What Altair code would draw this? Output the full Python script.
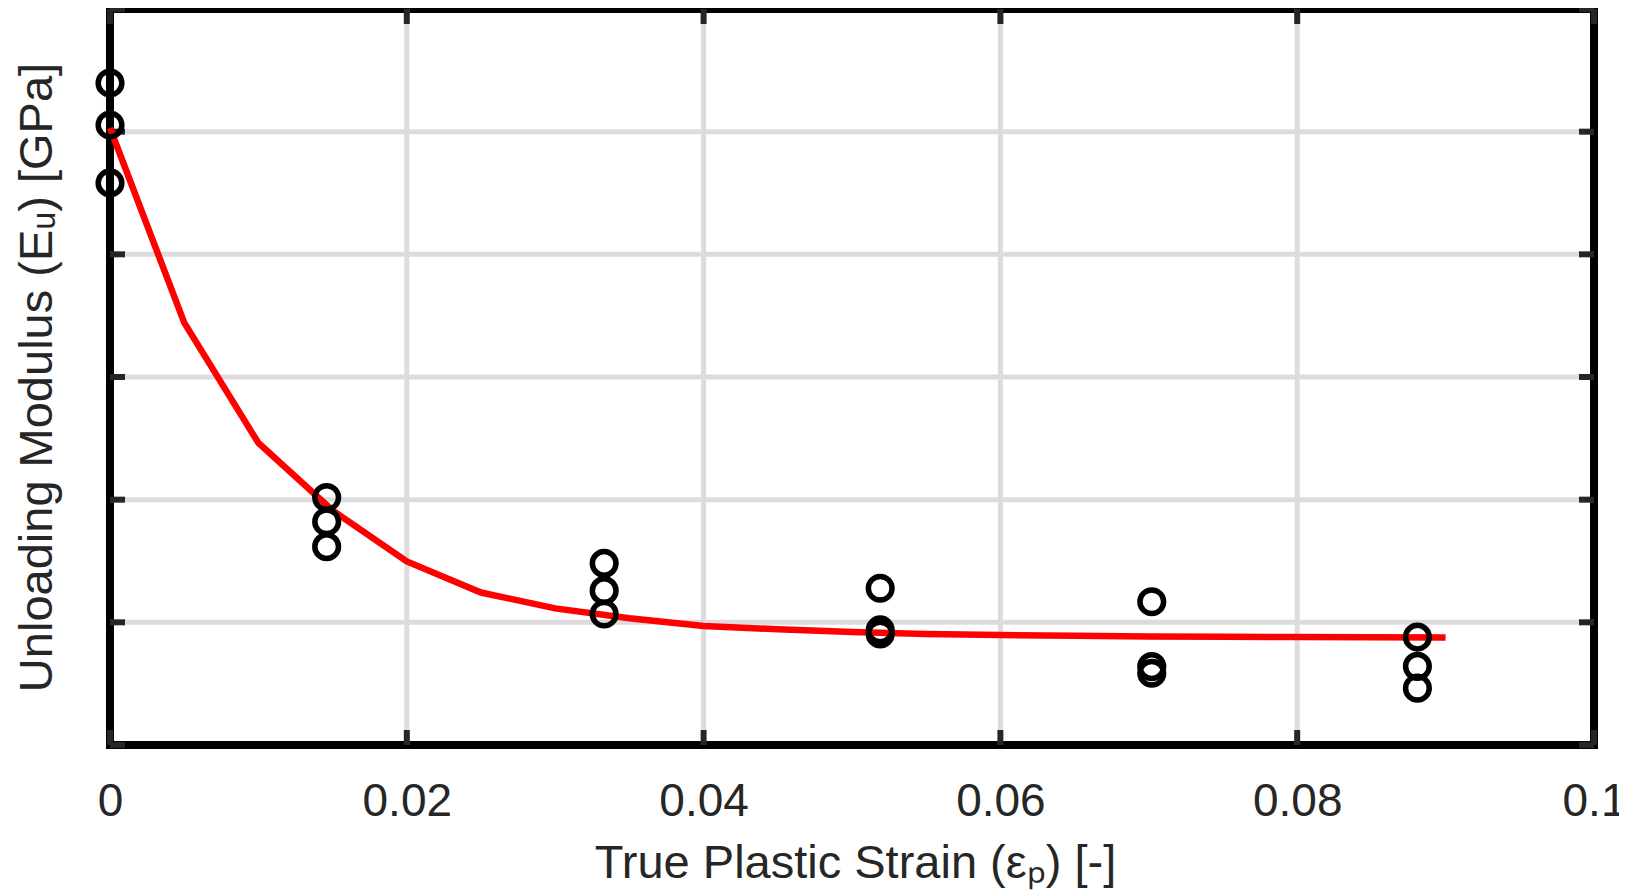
import altair as alt
import pandas as pd

# ---- data ----
x_ticks = [0, 0.02, 0.04, 0.06, 0.08, 0.1]
y_ticks = [140, 150, 160, 170, 180, 190, 200]
x_grid = [0.02, 0.04, 0.06, 0.08]
y_grid = [150, 160, 170, 180, 190]

strain_pts = [0, 0, 0,
              0.0146, 0.0146, 0.0146,
              0.0333, 0.0333, 0.0333,
              0.0519, 0.0519, 0.0519,
              0.0702, 0.0702, 0.0702,
              0.0881, 0.0881, 0.0881]
modulus_pts = [193.97, 190.54, 185.82,
               160.18, 158.20, 156.17,
               154.81, 152.58, 150.68,
               152.78, 149.38, 149.05,
               151.68, 146.39, 145.85,
               148.80, 146.41, 144.63]

fit_strain = [0, 0.005, 0.01, 0.015, 0.02, 0.025, 0.03, 0.035, 0.04, 0.045,
              0.05, 0.055, 0.06, 0.065, 0.07, 0.075, 0.08, 0.085, 0.09]
fit_modulus = [190.3, 174.43, 164.62, 159.12, 154.96, 152.43, 151.14, 150.33,
               149.70, 149.43, 149.21, 149.05, 148.97, 148.90, 148.85, 148.82,
               148.80, 148.78, 148.77]

W, H = 1484, 736
FONT = "Liberation Sans"
TXT = "#262626"
GRID = "#dcdcdc"

xs = alt.Scale(domain=[0, 0.1], nice=False, zero=False)
ys = alt.Scale(domain=[140, 200], nice=False, zero=False)

x_axis = alt.Axis(values=x_ticks, format=".2~f", grid=False, ticks=False, tickSize=0,
                  domain=False, labelFont=FONT, labelFontSize=46, labelColor=TXT,
                  labelPadding=56, labelBaseline="middle", labelFlush=False,
                  labelOverlap=False,
                  title="True Plastic Strain (εₚ) [-]", titleFont=FONT,
                  titleFontSize=47, titleFontWeight="normal", titleColor=TXT,
                  titleX=W / 2 + 3, titleY=118, titleBaseline="middle", titleAlign="center")
y_axis = alt.Axis(values=y_ticks, labels=False, ticks=False, tickSize=0, domain=False,
                  grid=False,
                  title="Unloading Modulus (Eᵤ) [GPa]", titleFont=FONT,
                  titleFontSize=47, titleFontWeight="normal", titleColor=TXT,
                  titleX=-73, titleY=H / 2, titleAngle=270, titleBaseline="middle",
                  titleAlign="center")

X = lambda: alt.X("strain:Q", scale=xs, axis=x_axis)
Y = lambda: alt.Y("modulus:Q", scale=ys, axis=y_axis)

pts_df = pd.DataFrame({"strain": strain_pts, "modulus": modulus_pts})
fit_df = pd.DataFrame({"strain": fit_strain, "modulus": fit_modulus})
xg_df = pd.DataFrame({"strain": x_grid})
yg_df = pd.DataFrame({"modulus": y_grid})
xt_df = pd.DataFrame({"strain": x_ticks})
yt_df = pd.DataFrame({"modulus": y_ticks})

grid_v = alt.Chart(xg_df).mark_rule(color=GRID, strokeWidth=5).encode(x=X())
grid_h = alt.Chart(yg_df).mark_rule(color=GRID, strokeWidth=5).encode(y=Y())

tick_style = dict(color=TXT, strokeWidth=6)
tick_b = alt.Chart(xt_df).mark_rule(**tick_style).encode(
    x=X(), y=alt.value(H), y2=alt.value(H - 15))
tick_t = alt.Chart(xt_df).mark_rule(**tick_style).encode(
    x=X(), y=alt.value(0), y2=alt.value(15))
tick_l = alt.Chart(yt_df).mark_rule(**tick_style).encode(
    y=Y(), x=alt.value(0), x2=alt.value(15))
tick_r = alt.Chart(yt_df).mark_rule(**tick_style).encode(
    y=Y(), x=alt.value(W), x2=alt.value(W - 15))

fit = alt.Chart(fit_df).mark_line(color="#ff0000", strokeWidth=6.5).encode(x=X(), y=Y())
pts = alt.Chart(pts_df).mark_point(shape="circle", filled=False, size=560,
                                   strokeWidth=5.5, color="black", opacity=1).encode(
    x=X(), y=Y())

chart = alt.layer(grid_v, grid_h, tick_b, tick_t, tick_l, tick_r, fit, pts).properties(
    width=W, height=H,
    autosize=alt.AutoSizeParams(type="none"),
    padding={"left": 102, "top": 1, "right": 25, "bottom": 146},
    background="white",
).configure_view(stroke="black", strokeWidth=8)

chart.save("out.html", embed_options={"renderer": "svg", "actions": False})
